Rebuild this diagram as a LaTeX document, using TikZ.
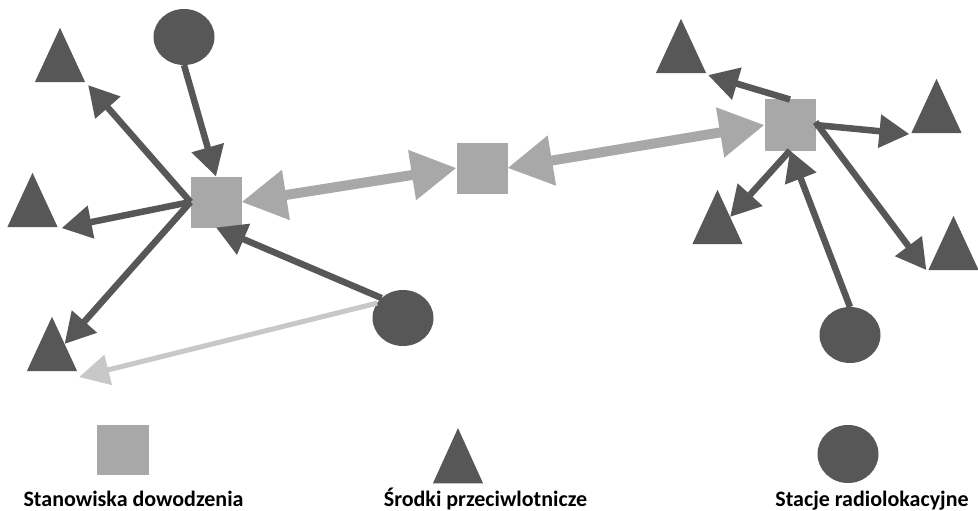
\documentclass[tikz,border=0pt]{standalone}
\usepackage{fontspec}
\setmainfont{Carlito}
\usetikzlibrary{arrows.meta,shapes.geometric}
\definecolor{dk}{HTML}{575757}
\definecolor{sq}{HTML}{A8A8A8}
\definecolor{lt}{HTML}{C8C8C8}
\tikzset{
  sqbox/.style={rectangle, fill=sq, minimum size=51pt, inner sep=0pt, outer sep=0pt},
  tri/.style={regular polygon, regular polygon sides=3, minimum size=58pt, inner sep=0pt, outer sep=0pt, fill=dk, yscale=1.247, transform shape},
  radar/.style={ellipse, fill=dk, minimum width=61pt, minimum height=56pt, inner sep=0pt, outer sep=0pt},
  dkarrow/.style={draw=dk, line width=6.5pt, -{Triangle[length=30pt,width=32pt]}},
  grarrow/.style={draw=sq, line width=10pt, {Triangle[length=45pt,width=48pt]}-{Triangle[length=45pt,width=48pt]}},
  ltarrow/.style={draw=lt, line width=5pt, -{Triangle[length=30pt,width=30pt]}},
  legend/.style={font=\bfseries\fontsize{22}{26}\selectfont, anchor=base, inner sep=0pt}
}
\begin{document}
\begin{tikzpicture}[x=1pt,y=-1pt]
\useasboundingbox (0,0) rectangle (978,511);
\fill[white] (0,0) rectangle (978,511);
% command posts
\node[sqbox] (A) at (216,202) {};
\node[sqbox] (M) at (482,168) {};
\node[sqbox] (B) at (790,125) {};
% anti-aircraft
\node[tri] (T1) at (60,64) {};
\node[tri] (T2) at (32.5,209) {};
\node[tri] (T3) at (52,353) {};
\node[tri] (T4) at (681,55) {};
\node[tri] (T5) at (936.5,115) {};
\node[tri] (T6) at (717.5,226) {};
\node[tri] (T7) at (953.5,252) {};
% radar stations
\node[radar] (C1) at (184,37) {};
\node[radar] (C2) at (403,318) {};
\node[radar] (C3) at (850,335) {};
% connectors
\draw[ltarrow] (C2.150) -- ([shift={(2,6)}]T3.corner 3);
\draw[dkarrow] (C1.south) -- (A.north);
\draw[dkarrow] (A.west) -- ([shift={(3,3)}]T1.corner 3);
\draw[dkarrow] (A.west) -- ([shift={(4,1)}]T2.corner 3);
\draw[dkarrow] (A.west) -- (T3.side 3);
\draw[dkarrow] (C2.137) -- (A.south);
\draw[grarrow] (A.east) -- (M.west);
\draw[grarrow] (M.east) -- (B.west);
\draw[dkarrow] (B.north) -- ([shift={(2,2)}]T4.corner 3);
\draw[dkarrow] (B.east) -- ([shift={(-2,1)}]T5.corner 2);
\draw[dkarrow] (B.south) -- (T6.side 3);
\draw[dkarrow] ([yshift=3pt]B.east) -- ([shift={(-2,0)}]T7.corner 2);
\draw[dkarrow] (C3.north) -- (B.south);
% legend
\node[sqbox, minimum width=52pt, minimum height=50pt] (LA) at (123,450) {};
\node[tri, yscale=1.02] (LT) at (458,465) {};
\node[radar, minimum height=58pt] (LC) at (848,454) {};
\node[legend] (LAt) at (133.5,506) {Stanowiska dowodzenia};
\node[legend] (LTt) at (485.5,506) {Środki przeciwlotnicze};
\node[legend] (LCt) at (872,506) {Stacje radiolokacyjne};
\end{tikzpicture}
\end{document}
